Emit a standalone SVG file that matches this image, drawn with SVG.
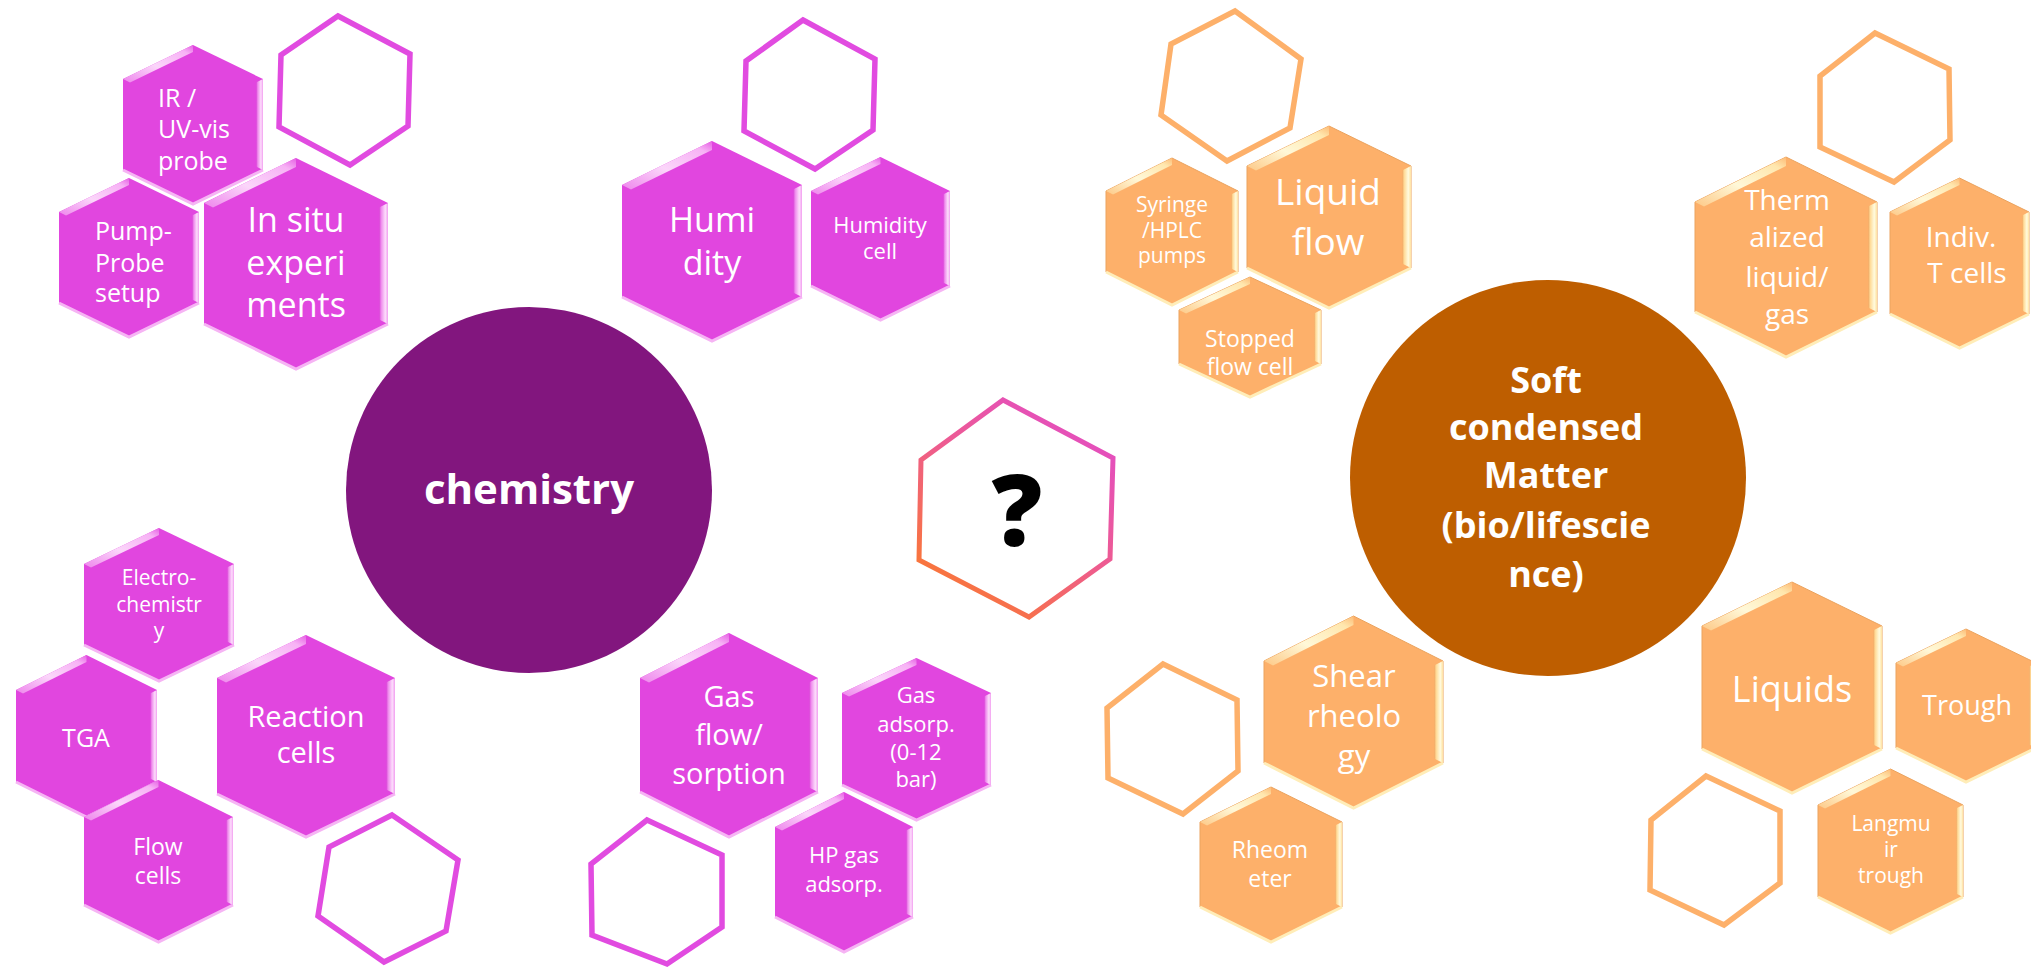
<svg xmlns="http://www.w3.org/2000/svg" width="2031" height="969" viewBox="0 0 2031 969">
<defs>
<linearGradient id="gTLm" x1="0" y1="1" x2="1" y2="0"><stop offset="0" stop-color="#EE86EC"/><stop offset="0.45" stop-color="#FBD6FA"/><stop offset="0.85" stop-color="#F7B2F5"/><stop offset="1" stop-color="#E65FE4"/></linearGradient>
<linearGradient id="gRm" x1="0" y1="0" x2="1" y2="0"><stop offset="0" stop-color="#D93ED7"/><stop offset="0.25" stop-color="#EF8CED"/><stop offset="0.7" stop-color="#FCDDFB"/><stop offset="1" stop-color="#F29EF0"/></linearGradient>
<linearGradient id="gTLo" x1="0" y1="1" x2="1" y2="0"><stop offset="0" stop-color="#FDC987"/><stop offset="0.45" stop-color="#FFF8D8"/><stop offset="0.85" stop-color="#FFE7AE"/><stop offset="1" stop-color="#FDBB76"/></linearGradient>
<linearGradient id="gRo" x1="0" y1="0" x2="1" y2="0"><stop offset="0" stop-color="#F2A45E"/><stop offset="0.25" stop-color="#FFDB98"/><stop offset="0.7" stop-color="#FFFBDF"/><stop offset="1" stop-color="#FFE1A0"/></linearGradient>
<linearGradient id="gQ" gradientUnits="userSpaceOnUse" x1="1110" y1="420" x2="960" y2="620"><stop offset="0" stop-color="#E24CC8"/><stop offset="0.5" stop-color="#EE5C8E"/><stop offset="1" stop-color="#FB7A2C"/></linearGradient>
</defs>
<style>
.mf{fill:#E146DF}
.mtl{fill:url(#gTLm)}
.mr{fill:url(#gRm)}
.mb{fill:none;stroke:#F6B4F4;stroke-width:3}
.of{fill:#FDB06A;stroke:#EBA35E;stroke-width:1}
.otl{fill:url(#gTLo)}
.or{fill:url(#gRo)}
.ob{fill:none;stroke:#FFEDB8;stroke-width:3}
.mo{fill:none;stroke:#E14BE0;stroke-width:5.5;stroke-linejoin:miter}
.oo{fill:none;stroke:#FDB06A;stroke-width:5.5;stroke-linejoin:miter}
.t{font-family:"Open Sans","Noto Sans","Liberation Sans",sans-serif;fill:#FFFFFF;text-anchor:middle}
.tl{text-anchor:start}
.b{font-family:"Open Sans","Noto Sans","Liberation Sans",sans-serif;font-weight:bold;fill:#FFFFFF;text-anchor:middle}
</style>
<rect width="2031" height="969" fill="#FFFFFF"/>
<g id="connectors"/>

<g id="n-chemistry">
<circle cx="529" cy="490" r="183" fill="#82167E"/>
<text class="b" x="529" y="504" font-size="42">chemistry</text>
</g>
<g id="n-softmatter">
<circle cx="1548" cy="478" r="198" fill="#BE5E00"/>
<text class="b" x="1546" font-size="36"><tspan x="1546" y="393">Soft</tspan><tspan x="1546" y="440">condensed</tspan><tspan x="1546" y="488">Matter</tspan><tspan x="1546" y="538">(bio/lifescie</tspan><tspan x="1546" y="587">nce)</tspan></text>
</g>

<g id="n-empty1"><polygon class="mo" points="338,16 410,54 408,126 350,165 279,127 281,55"/></g>
<g id="n-empty2"><polygon class="mo" points="803,20 875,59 873,130 815,169 744,131 746,61"/></g>
<g id="n-empty3"><polygon class="mo" points="392,815 458,860 446,931 384,962 318,916 329,847"/></g>
<g id="n-empty4"><polygon class="mo" points="647,820 722,855 722,927 667,964 592,935 591,864"/></g>
<g id="n-empty5"><polygon class="oo" points="1235,11 1301,59 1290,128 1227,161 1161,115 1171,44"/></g>
<g id="n-empty6"><polygon class="oo" points="1875,33 1949,69 1950,140 1894,182 1820,147 1820,76"/></g>
<g id="n-empty7"><polygon class="oo" points="1163,664 1237,700 1238,771 1183,814 1108,778 1107,708"/></g>
<g id="n-empty8"><polygon class="oo" points="1706,776 1780,811 1780,883 1724,925 1650,890 1651,820"/></g>
<g id="n-question">
<polygon fill="none" stroke="url(#gQ)" stroke-width="5" points="1003,400 1113,458 1110,559 1029,617 919,560 921,460"/>
<text x="1017" y="546" font-family="Open Sans,Noto Sans,Liberation Sans,sans-serif" font-weight="800" font-size="100" fill="#000000" text-anchor="middle">?</text>
</g>

<g id="n-irprobe">
<polygon class="mf" points="193,45 263,79 263,170 193,204 123,170 123,79"/>
<polygon class="mtl" points="123,79 193,45 193,52 130,82.5"/>
<polygon class="mr" points="263,79 263,170 256,166.5 256,82.5"/>
<polyline class="mb" points="123,170 193,204 263,170"/>
<text class="t tl" font-size="25"><tspan x="158" y="107">IR /</tspan><tspan x="158" y="138">UV-vis</tspan><tspan x="158" y="170">probe</tspan></text>
</g>
<g id="n-pumpprobe">
<polygon class="mf" points="129,178 199,212 199,303 129,337 59,303 59,212"/>
<polygon class="mtl" points="59,212 129,178 129,185 66,215.5"/>
<polygon class="mr" points="199,212 199,303 192,299.5 192,215.5"/>
<polyline class="mb" points="59,303 129,337 199,303"/>
<text class="t tl" font-size="25"><tspan x="95" y="240">Pump-</tspan><tspan x="95" y="272">Probe</tspan><tspan x="95" y="302">setup</tspan></text>
</g>
<g id="n-insitu">
<polygon class="mf" points="296,158 388,203 388,324 296,369 204,324 204,203"/>
<polygon class="mtl" points="204,203 296,158 296,167 213,207.5"/>
<polygon class="mr" points="388,203 388,324 379,319.5 379,207.5"/>
<polyline class="mb" points="204,324 296,369 388,324"/>
<text class="t" font-size="34"><tspan x="296" y="232">In situ</tspan><tspan x="296" y="275">experi</tspan><tspan x="296" y="317">ments</tspan></text>
</g>
<g id="n-humidity">
<polygon class="mf" points="712,141 802,185 802,297 712,341 622,297 622,185"/>
<polygon class="mtl" points="622,185 712,141 712,150 631,189.5"/>
<polygon class="mr" points="802,185 802,297 793,292.5 793,189.5"/>
<polyline class="mb" points="622,297 712,341 802,297"/>
<text class="t" font-size="34"><tspan x="712" y="232">Humi</tspan><tspan x="712" y="275">dity</tspan></text>
</g>
<g id="n-humiditycell">
<polygon class="mf" points="880.5,157 950,191 950,286 880.5,320 811,286 811,191"/>
<polygon class="mtl" points="811,191 880.5,157 880.5,164 818,194.5"/>
<polygon class="mr" points="950,191 950,286 943,282.5 943,194.5"/>
<polyline class="mb" points="811,286 880.5,320 950,286"/>
<text class="t" font-size="22"><tspan x="880" y="233">Humidity</tspan><tspan x="880" y="259">cell</tspan></text>
</g>
<g id="n-electro">
<polygon class="mf" points="159,528 234,564 234,645 159,681 84,645 84,564"/>
<polygon class="mtl" points="84,564 159,528 159,535 91,567.5"/>
<polygon class="mr" points="234,564 234,645 227,641.5 227,567.5"/>
<polyline class="mb" points="84,645 159,681 234,645"/>
<text class="t" font-size="21"><tspan x="159" y="585">Electro-</tspan><tspan x="159" y="612">chemistr</tspan><tspan x="159" y="638">y</tspan></text>
</g>
<g id="n-tga">
<polygon class="mf" points="86.5,655 157,690 157,782 86.5,817 16,782 16,690"/>
<polygon class="mtl" points="16,690 86.5,655 86.5,662 23,693.5"/>
<polygon class="mr" points="157,690 157,782 150,778.5 150,693.5"/>
<polyline class="mb" points="16,782 86.5,817 157,782"/>
<text class="t" x="86" y="747" font-size="25">TGA</text>
</g>
<g id="n-flowcells">
<polygon class="mf" points="158.5,780 233,817 233,905 158.5,942 84,905 84,817"/>
<polygon class="mtl" points="84,817 158.5,780 158.5,787 91,820.5"/>
<polygon class="mr" points="233,817 233,905 226,901.5 226,820.5"/>
<polyline class="mb" points="84,905 158.5,942 233,905"/>
<text class="t" font-size="23"><tspan x="158" y="855">Flow</tspan><tspan x="158" y="884">cells</tspan></text>
</g>
<g id="n-reaction">
<polygon class="mf" points="306,635 395,678 395,794 306,837 217,794 217,678"/>
<polygon class="mtl" points="217,678 306,635 306,644 226,682.5"/>
<polygon class="mr" points="395,678 395,794 386,789.5 386,682.5"/>
<polyline class="mb" points="217,794 306,837 395,794"/>
<text class="t" font-size="29"><tspan x="306" y="727">Reaction</tspan><tspan x="306" y="763">cells</tspan></text>
</g>
<g id="n-gasflow">
<polygon class="mf" points="729,633 818,678 818,792 729,837 640,792 640,678"/>
<polygon class="mtl" points="640,678 729,633 729,642 649,682.5"/>
<polygon class="mr" points="818,678 818,792 809,787.5 809,682.5"/>
<polyline class="mb" points="640,792 729,837 818,792"/>
<text class="t" font-size="29"><tspan x="729" y="707">Gas</tspan><tspan x="729" y="745">flow/</tspan><tspan x="729" y="784">sorption</tspan></text>
</g>
<g id="n-gasadsorp">
<polygon class="mf" points="916.5,658 991,693 991,785 916.5,820 842,785 842,693"/>
<polygon class="mtl" points="842,693 916.5,658 916.5,665 849,696.5"/>
<polygon class="mr" points="991,693 991,785 984,781.5 984,696.5"/>
<polyline class="mb" points="842,785 916.5,820 991,785"/>
<text class="t" font-size="22"><tspan x="916" y="703">Gas</tspan><tspan x="916" y="732">adsorp.</tspan><tspan x="916" y="760">(0-12</tspan><tspan x="916" y="787">bar)</tspan></text>
</g>
<g id="n-hpgas">
<polygon class="mf" points="844,792 913,827 913,917 844,952 775,917 775,827"/>
<polygon class="mtl" points="775,827 844,792 844,799 782,830.5"/>
<polygon class="mr" points="913,827 913,917 906,913.5 906,830.5"/>
<polyline class="mb" points="775,917 844,952 913,917"/>
<text class="t" font-size="22"><tspan x="844" y="863">HP gas</tspan><tspan x="844" y="892">adsorp.</tspan></text>
</g>

<g id="n-syringe">
<polygon class="of" points="1172,158 1238,191 1238,272 1172,305 1106,272 1106,191"/>
<polygon class="otl" points="1106,191 1172,158 1172,165 1113,194.5"/>
<polygon class="or" points="1238,191 1238,272 1231,268.5 1231,194.5"/>
<polyline class="ob" points="1106,272 1172,305 1238,272"/>
<text class="t" font-size="21"><tspan x="1172" y="212">Syringe</tspan><tspan x="1172" y="238">/HPLC</tspan><tspan x="1172" y="263">pumps</tspan></text>
</g>
<g id="n-liquidflow">
<polygon class="of" points="1329,126 1411,166 1411,268 1329,308 1247,268 1247,166"/>
<polygon class="otl" points="1247,166 1329,126 1329,135 1256,170.5"/>
<polygon class="or" points="1411,166 1411,268 1402,263.5 1402,170.5"/>
<polyline class="ob" points="1247,268 1329,308 1411,268"/>
<text class="t" font-size="37"><tspan x="1328" y="205">Liquid</tspan><tspan x="1328" y="255">flow</tspan></text>
</g>
<g id="n-stopped">
<polygon class="of" points="1250,277 1321,310 1321,364 1250,397 1179,364 1179,310"/>
<polygon class="otl" points="1179,310 1250,277 1250,284 1186,313.5"/>
<polygon class="or" points="1321,310 1321,364 1314,360.5 1314,313.5"/>
<polyline class="ob" points="1179,364 1250,397 1321,364"/>
<text class="t" font-size="23"><tspan x="1250" y="347">Stopped</tspan><tspan x="1250" y="375">flow cell</tspan></text>
</g>
<g id="n-thermalized">
<polygon class="of" points="1786,157 1877,202 1877,312 1786,357 1695,312 1695,202"/>
<polygon class="otl" points="1695,202 1786,157 1786,166 1704,206.5"/>
<polygon class="or" points="1877,202 1877,312 1868,307.5 1868,206.5"/>
<polyline class="ob" points="1695,312 1786,357 1877,312"/>
<text class="t" font-size="28"><tspan x="1787" y="210">Therm</tspan><tspan x="1787" y="247">alized</tspan><tspan x="1787" y="287">liquid/</tspan><tspan x="1787" y="324">gas</tspan></text>
</g>
<g id="n-indiv">
<polygon class="of" points="1959.5,178 2029,212 2029,314 1959.5,348 1890,314 1890,212"/>
<polygon class="otl" points="1890,212 1959.5,178 1959.5,185 1897,215.5"/>
<polygon class="or" points="2029,212 2029,314 2022,310.5 2022,215.5"/>
<polyline class="ob" points="1890,314 1959.5,348 2029,314"/>
<text class="t" font-size="28"><tspan x="1961" y="247">Indiv.</tspan><tspan x="1967" y="283">T cells</tspan></text>
</g>
<g id="n-shear">
<polygon class="of" points="1353.5,616 1443,661 1443,763 1353.5,808 1264,763 1264,661"/>
<polygon class="otl" points="1264,661 1353.5,616 1353.5,625 1273,665.5"/>
<polygon class="or" points="1443,661 1443,763 1434,758.5 1434,665.5"/>
<polyline class="ob" points="1264,763 1353.5,808 1443,763"/>
<text class="t" font-size="31"><tspan x="1354" y="687">Shear</tspan><tspan x="1354" y="727">rheolo</tspan><tspan x="1354" y="767">gy</tspan></text>
</g>
<g id="n-rheometer">
<polygon class="of" points="1271,787 1342,822 1342,907 1271,942 1200,907 1200,822"/>
<polygon class="otl" points="1200,822 1271,787 1271,794 1207,825.5"/>
<polygon class="or" points="1342,822 1342,907 1335,903.5 1335,825.5"/>
<polyline class="ob" points="1200,907 1271,942 1342,907"/>
<text class="t" font-size="23"><tspan x="1270" y="858">Rheom</tspan><tspan x="1270" y="887">eter</tspan></text>
</g>
<g id="n-liquids">
<polygon class="of" points="1792,582 1882,626 1882,749 1792,793 1702,749 1702,626"/>
<polygon class="otl" points="1702,626 1792,582 1792,591 1711,630.5"/>
<polygon class="or" points="1882,626 1882,749 1873,744.5 1873,630.5"/>
<polyline class="ob" points="1702,749 1792,793 1882,749"/>
<text class="t" x="1792" y="702" font-size="36">Liquids</text>
</g>
<g id="n-trough">
<polygon class="of" points="1966,629 2036,663 2036,748 1966,782 1896,748 1896,663"/>
<polygon class="otl" points="1896,663 1966,629 1966,636 1903,666.5"/>
<polygon class="or" points="2036,663 2036,748 2029,744.5 2029,666.5"/>
<polyline class="ob" points="1896,748 1966,782 2036,748"/>
<text class="t" x="1967" y="715" font-size="27">Trough</text>
</g>
<g id="n-langmuir">
<polygon class="of" points="1890.5,769 1963,805 1963,897 1890.5,933 1818,897 1818,805"/>
<polygon class="otl" points="1818,805 1890.5,769 1890.5,776 1825,808.5"/>
<polygon class="or" points="1963,805 1963,897 1956,893.5 1956,808.5"/>
<polyline class="ob" points="1818,897 1890.5,933 1963,897"/>
<text class="t" font-size="21"><tspan x="1891" y="831">Langmu</tspan><tspan x="1891" y="857">ir</tspan><tspan x="1891" y="883">trough</tspan></text>
</g>
</svg>
